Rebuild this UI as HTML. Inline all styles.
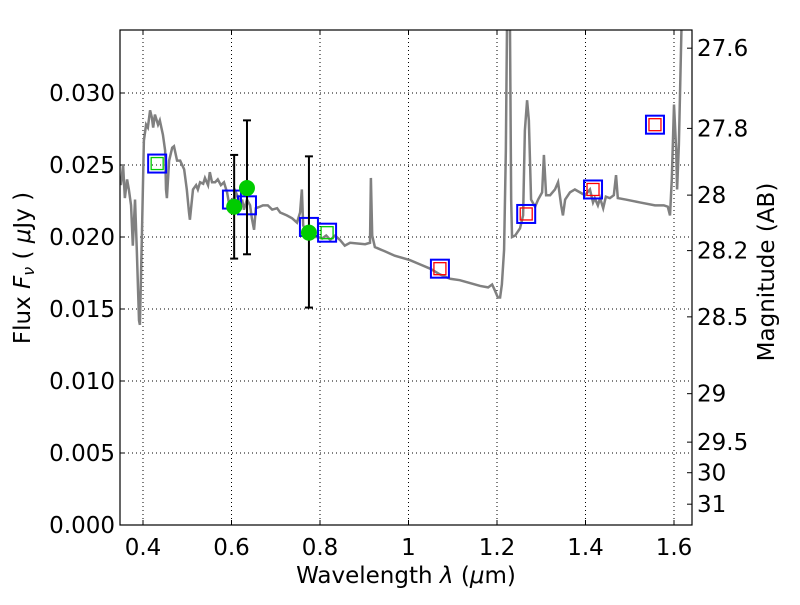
<!DOCTYPE html>
<html><head><meta charset="utf-8"><style>
body{margin:0;background:#fff;width:800px;height:600px;overflow:hidden}
svg text{font-family:"DejaVu Sans","Liberation Sans",sans-serif;}
</style></head><body>
<svg id="chart" width="800" height="600"></svg>
<script>
const specWave=[0.350,0.355,0.359,0.364,0.368,0.373,0.377,0.382,0.386,0.391,0.393,0.398,0.402,0.407,0.411,0.416,0.420,0.423,0.427,0.434,0.438,0.445,0.450,0.452,0.454,0.459,0.466,0.470,0.477,0.484,0.493,0.499,0.504,0.506,0.513,0.520,0.524,0.529,0.536,0.540,0.547,0.551,0.556,0.563,0.569,0.576,0.583,0.590,0.594,0.601,0.606,0.610,0.617,0.619,0.624,0.628,0.635,0.642,0.646,0.651,0.655,0.664,0.671,0.682,0.692,0.703,0.710,0.725,0.737,0.748,0.755,0.759,0.762,0.768,0.777,0.786,0.795,0.805,0.814,0.823,0.834,0.845,0.856,0.868,0.902,0.913,0.915,0.918,0.924,0.947,0.969,1.003,1.026,1.049,1.071,1.094,1.116,1.139,1.162,1.180,1.189,1.195,1.202,1.207,1.211,1.216,1.220,1.223,1.229,1.232,1.234,1.241,1.252,1.259,1.263,1.268,1.272,1.277,1.286,1.293,1.302,1.306,1.311,1.320,1.331,1.338,1.345,1.349,1.354,1.365,1.376,1.399,1.410,1.417,1.421,1.428,1.433,1.440,1.446,1.455,1.464,1.469,1.473,1.491,1.523,1.557,1.577,1.586,1.591,1.595,1.600,1.605,1.607,1.611,1.618];
const specFlux=[0.0236,0.0250,0.0227,0.0240,0.0233,0.0222,0.0194,0.0226,0.0191,0.0142,0.0139,0.0208,0.0267,0.0278,0.0276,0.0288,0.0283,0.0276,0.0285,0.0278,0.0281,0.0271,0.0260,0.0233,0.0227,0.0253,0.0262,0.0263,0.0253,0.0253,0.0247,0.0233,0.0217,0.0212,0.0233,0.0236,0.0233,0.0238,0.0237,0.0241,0.0236,0.0245,0.0238,0.0238,0.0240,0.0236,0.0238,0.0231,0.0224,0.0226,0.0222,0.0231,0.0226,0.0219,0.0226,0.0219,0.0226,0.0222,0.0213,0.0205,0.0220,0.0221,0.0222,0.0222,0.0219,0.0220,0.0217,0.0215,0.0213,0.0210,0.0217,0.0233,0.0208,0.0205,0.0206,0.0200,0.0200,0.0199,0.0201,0.0198,0.0201,0.0198,0.0194,0.0196,0.0195,0.0196,0.0241,0.0201,0.0193,0.0190,0.0187,0.0184,0.0181,0.0178,0.0174,0.0171,0.0170,0.0168,0.0166,0.0165,0.0167,0.0163,0.0158,0.0158,0.0167,0.0191,0.0260,0.0360,0.0360,0.0226,0.0200,0.0201,0.0206,0.0215,0.0274,0.0295,0.0281,0.0226,0.0221,0.0226,0.0231,0.0257,0.0229,0.0229,0.0233,0.0238,0.0222,0.0215,0.0226,0.0231,0.0233,0.0229,0.0233,0.0224,0.0227,0.0222,0.0227,0.0220,0.0228,0.0227,0.0229,0.0243,0.0227,0.0226,0.0224,0.0222,0.0222,0.0221,0.0215,0.0240,0.0292,0.0260,0.0233,0.0264,0.0360];
const photWave=[0.432,0.601,0.635,0.775,0.816,1.071,1.266,1.417,1.557];
const photFlux=[0.0251,0.0226,0.0222,0.0207,0.0203,0.0178,0.0216,0.0233,0.0278];
const photInner=["#00cc00","none","none","none","#00cc00","red","red","red","red"];
const obsWave=[0.606,0.635,0.775];
const obsFlux=[0.0221,0.0234,0.0203];
const obsLo=[0.0185,0.0188,0.0151];
const obsHi=[0.0257,0.0281,0.0256];
const xTicks=[0.4,0.6,0.8,1,1.2,1.4,1.6];
const xTickLabels=["0.4","0.6","0.8","1","1.2","1.4","1.6"];
const yTicks=[0,0.005,0.010,0.015,0.020,0.025,0.030];
const yTickLabels=["0.000","0.005","0.010","0.015","0.020","0.025","0.030"];
const magTicks=[27.6,27.8,28,28.2,28.5,29,29.5,30,31];
const magLabels=["27.6","27.8","28","28.2","28.5","29","29.5","30","31"];

const L=120,R=692,T=30,B=525;
const X=w=>143+(w-0.4)*442.5;
const Y=f=>525-f*14400;
const NS="http://www.w3.org/2000/svg";
const svg=document.getElementById('chart');
function mk(tag,attrs,parent){const e=document.createElementNS(NS,tag);for(const k in attrs)e.setAttribute(k,attrs[k]);(parent||svg).appendChild(e);return e;}
const defs=mk('defs',{});const cp=mk('clipPath',{id:'clip'},defs);mk('rect',{x:L,y:T,width:R-L,height:B-T},cp);
const grid=mk('g',{});


xTicks.forEach((t,i)=>{const x=X(t);
 mk('line',{x1:x,x2:x,y1:T,y2:B,stroke:'#000','stroke-dasharray':'1,3','stroke-width':1},grid);
 mk('line',{x1:x,x2:x,y1:B,y2:B-5,stroke:'#000'},grid);mk('line',{x1:x,x2:x,y1:T,y2:T+5,stroke:'#000'},grid);
 const tx=mk('text',{x:x,y:B+30,'font-size':23,'text-anchor':'middle'});tx.textContent=xTickLabels[i];
 
 
});
yTicks.forEach((t,i)=>{const y=Y(t);
 mk('line',{x1:L,x2:R,y1:y,y2:y,stroke:'#000','stroke-dasharray':'1,3','stroke-width':1},grid);
 mk('line',{x1:L,x2:L+5,y1:y,y2:y,stroke:'#000'},grid);
 const tx=mk('text',{x:L-5,y:y+8,'font-size':23,'text-anchor':'end'});tx.textContent=yTickLabels[i];
 
 
});
magTicks.forEach((m,i)=>{const f=Math.pow(10,(23.9-m)/2.5);const y=Y(f);
 mk('line',{x1:R,x2:R-5,y1:y,y2:y,stroke:'#000'});
 const tx=mk('text',{x:R+5,y:y+8,'font-size':23});tx.textContent=magLabels[i];
 
 
});
const sp=mk('polyline',{points:specWave.map((w,i)=>X(w)+','+Y(specFlux[i])).join(' '),fill:'none',stroke:'#808080','stroke-width':2.5,'clip-path':'url(#clip)'});


photWave.forEach((w,i)=>{const x=X(w),y=Y(photFlux[i]);
 const r=mk('rect',{x:x-9,y:y-9,width:18,height:18,fill:'none',stroke:'#0000ff','stroke-width':2});
 
 
 if(photInner[i]!=='none'){const q=mk('rect',{x:x-6,y:y-6,width:12,height:12,fill:'none',stroke:photInner[i],'stroke-width':1.3});
 
 }
});
obsWave.forEach((w,i)=>{const x=X(w);
 const g=mk('g',{});
 
 
 mk('line',{x1:x,x2:x,y1:Y(obsLo[i]),y2:Y(obsHi[i]),stroke:'#000','stroke-width':2},g);
 mk('line',{x1:x-4,x2:x+4,y1:Y(obsLo[i]),y2:Y(obsLo[i]),stroke:'#000','stroke-width':2},g);
 mk('line',{x1:x-4,x2:x+4,y1:Y(obsHi[i]),y2:Y(obsHi[i]),stroke:'#000','stroke-width':2},g);
 mk('circle',{cx:x,cy:Y(obsFlux[i]),r:8,fill:'#00cc00'},g);
});
const fr=mk('rect',{x:L,y:T,width:R-L,height:B-T,fill:'none',stroke:'#000','stroke-width':1.2});


const xl=mk('text',{x:406,y:583,'font-size':23,'text-anchor':'middle','xml:space':'preserve'});
xl.innerHTML='Wavelength  <tspan font-style="italic">λ</tspan> (<tspan font-style="italic">μ</tspan>m)';


const yl=mk('text',{x:0,y:0,'font-size':23,'text-anchor':'middle',transform:'translate(30,268) rotate(-90)'});
yl.setAttribute('xml:space','preserve');
yl.innerHTML='Flux  <tspan font-style="italic">F</tspan><tspan font-style="italic" font-size="16" dy="4">ν</tspan><tspan dy="-4">  ( </tspan><tspan font-style="italic">μ</tspan>Jy )';


const ml=mk('text',{x:0,y:0,'font-size':23,'text-anchor':'middle',transform:'translate(774,272) rotate(-90)'});
ml.textContent='Magnitude (AB)';


</script>
</body></html>
